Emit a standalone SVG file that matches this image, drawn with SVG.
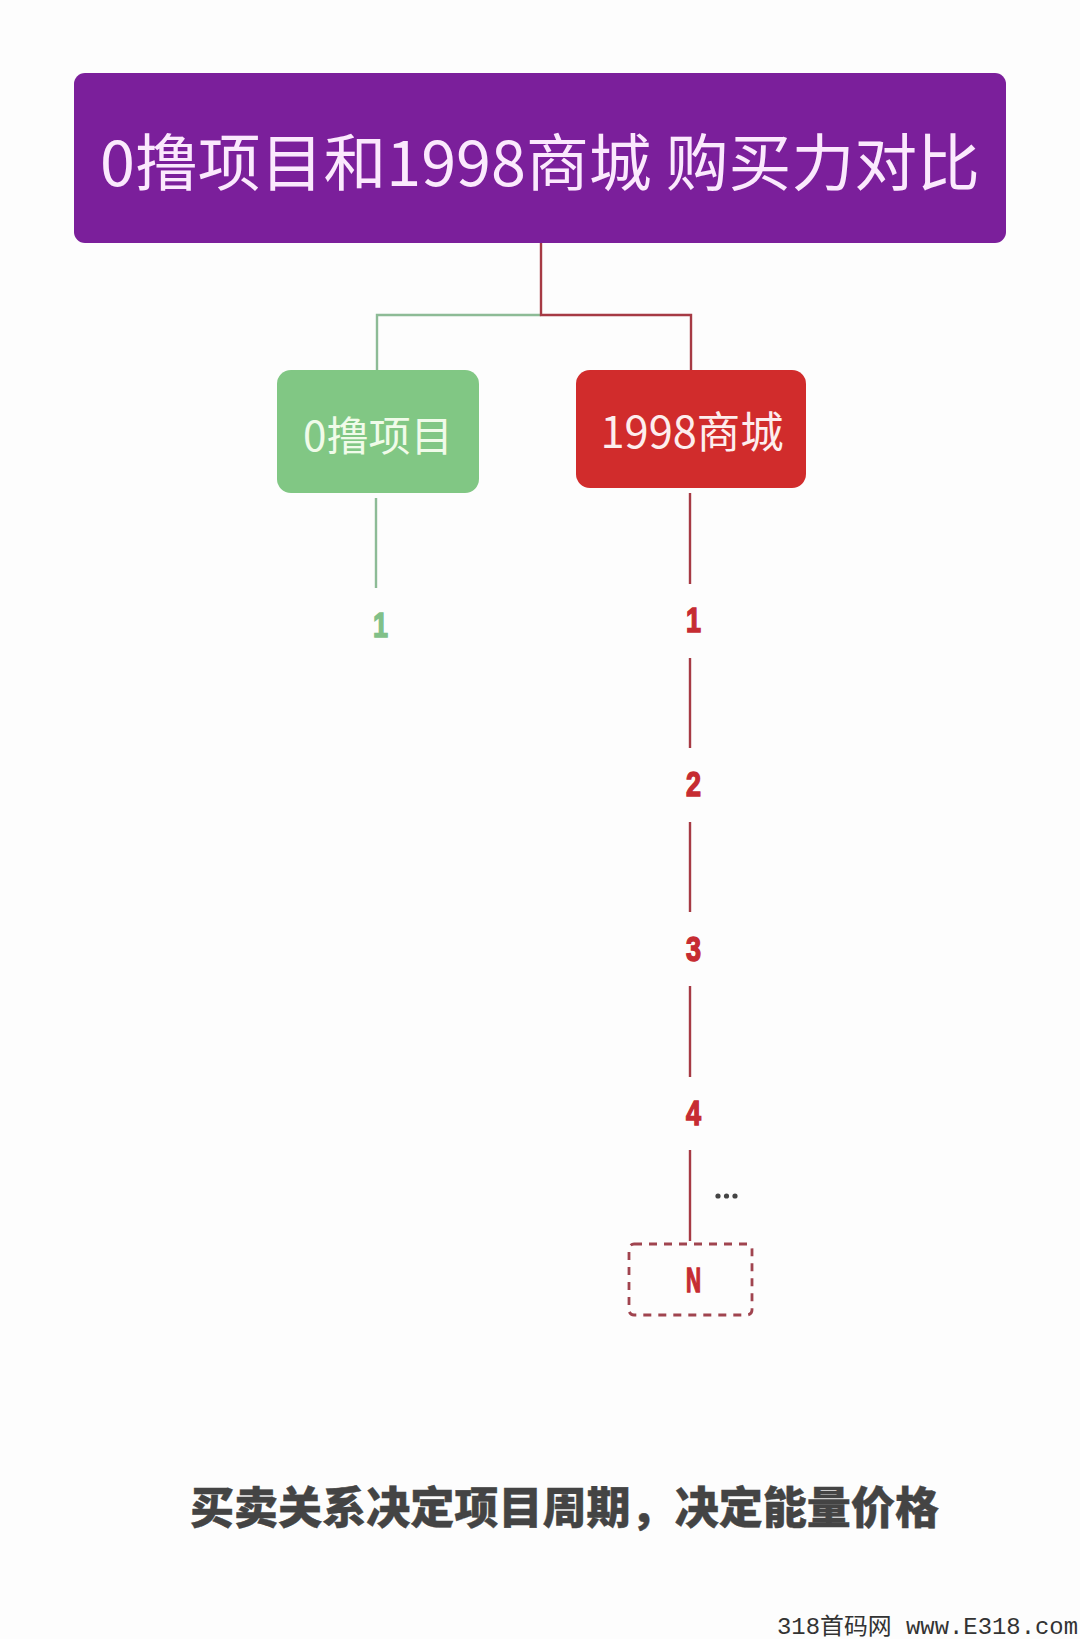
<svg xmlns="http://www.w3.org/2000/svg" width="1080" height="1639" viewBox="0 0 1080 1639">
<style>
.cjk{font-family:"Noto Sans CJK SC","Noto Sans",sans-serif}
.lbl{font-weight:400;text-anchor:middle}
.num{font-family:"Liberation Sans",Arial,sans-serif;font-weight:700;text-anchor:middle;font-size:35px;stroke-width:1.5px}
.r{fill:#c62c32;stroke:#c62c32}
.g{fill:#81c088;stroke:#81c088}
.lr{stroke:#a63a44;stroke-width:2.4;fill:none}
.lg{stroke:#8dbb96;stroke-width:2.4;fill:none}
.dot{fill:#444}
</style>
<rect id="background" width="1080" height="1639" fill="#fdfdfd"/>
<g id="connectors">
<path class="lg" d="M541 315H377V370"/>
<path class="lr" d="M541 243V315H691V370"/>
<path class="lg" d="M376 498V588"/>
<path class="lr" d="M690 493V584M690 658V748M690 822V912M690 986V1077M690 1150V1241"/>
</g>
<g id="title"><rect x="74" y="73" width="932" height="170" rx="11" fill="#7b1f9b"/>
<text class="cjk lbl" x="540" y="186" font-size="62" fill="#fbe9fd" textLength="880" lengthAdjust="spacingAndGlyphs">0撸项目和1998商城 购买力对比</text></g>
<g id="node-zero"><rect x="277" y="370" width="202" height="123" rx="14" fill="#81c784"/>
<text class="cjk lbl" x="378" y="451" font-size="41" fill="#f0fbe9" textLength="150" lengthAdjust="spacingAndGlyphs">0撸项目</text></g>
<g id="node-mall"><rect x="576" y="370" width="230" height="118" rx="14" fill="#d12c2c"/>
<text class="cjk lbl" x="692" y="448" font-size="43" fill="#fdeeee" textLength="183" lengthAdjust="spacingAndGlyphs">1998商城</text></g>
<g id="item-g1"><text class="num g" x="380.500" y="637" textLength="15" lengthAdjust="spacingAndGlyphs">1</text></g>
<g id="item-r1"><text class="num r" x="693.500" y="632" textLength="15" lengthAdjust="spacingAndGlyphs">1</text></g>
<g id="item-r2"><text class="num r" x="693.500" y="796" textLength="15" lengthAdjust="spacingAndGlyphs">2</text></g>
<g id="item-r3"><text class="num r" x="693.500" y="961" textLength="15" lengthAdjust="spacingAndGlyphs">3</text></g>
<g id="item-r4"><text class="num r" x="693.500" y="1125" textLength="15" lengthAdjust="spacingAndGlyphs">4</text></g>
<g id="ellipsis"><circle class="dot" cx="718" cy="1196" r="2.600"/><circle class="dot" cx="726.500" cy="1196" r="2.600"/><circle class="dot" cx="735" cy="1196" r="2.600"/></g>
<g id="item-n"><rect x="629" y="1244" width="123" height="71" rx="5" fill="none" stroke="#a0444f" stroke-width="2.800" stroke-dasharray="8 7"/>
<text class="num r" x="693.500" y="1292" textLength="15" lengthAdjust="spacingAndGlyphs">N</text></g>
<g id="caption"><text class="cjk" x="190" y="1524" font-size="44" font-weight="900" fill="#444" stroke="#444" stroke-width=".4" textLength="749" lengthAdjust="spacingAndGlyphs">买卖关系决定项目周期，决定能量价格</text></g>
<g id="watermark"><text transform="translate(777 1634) scale(1 1.15)" font-family="'Liberation Mono','Noto Sans CJK SC',monospace" font-size="20" fill="#333" textLength="301" lengthAdjust="spacingAndGlyphs">318首码网 www.E318.com</text></g>
</svg>
